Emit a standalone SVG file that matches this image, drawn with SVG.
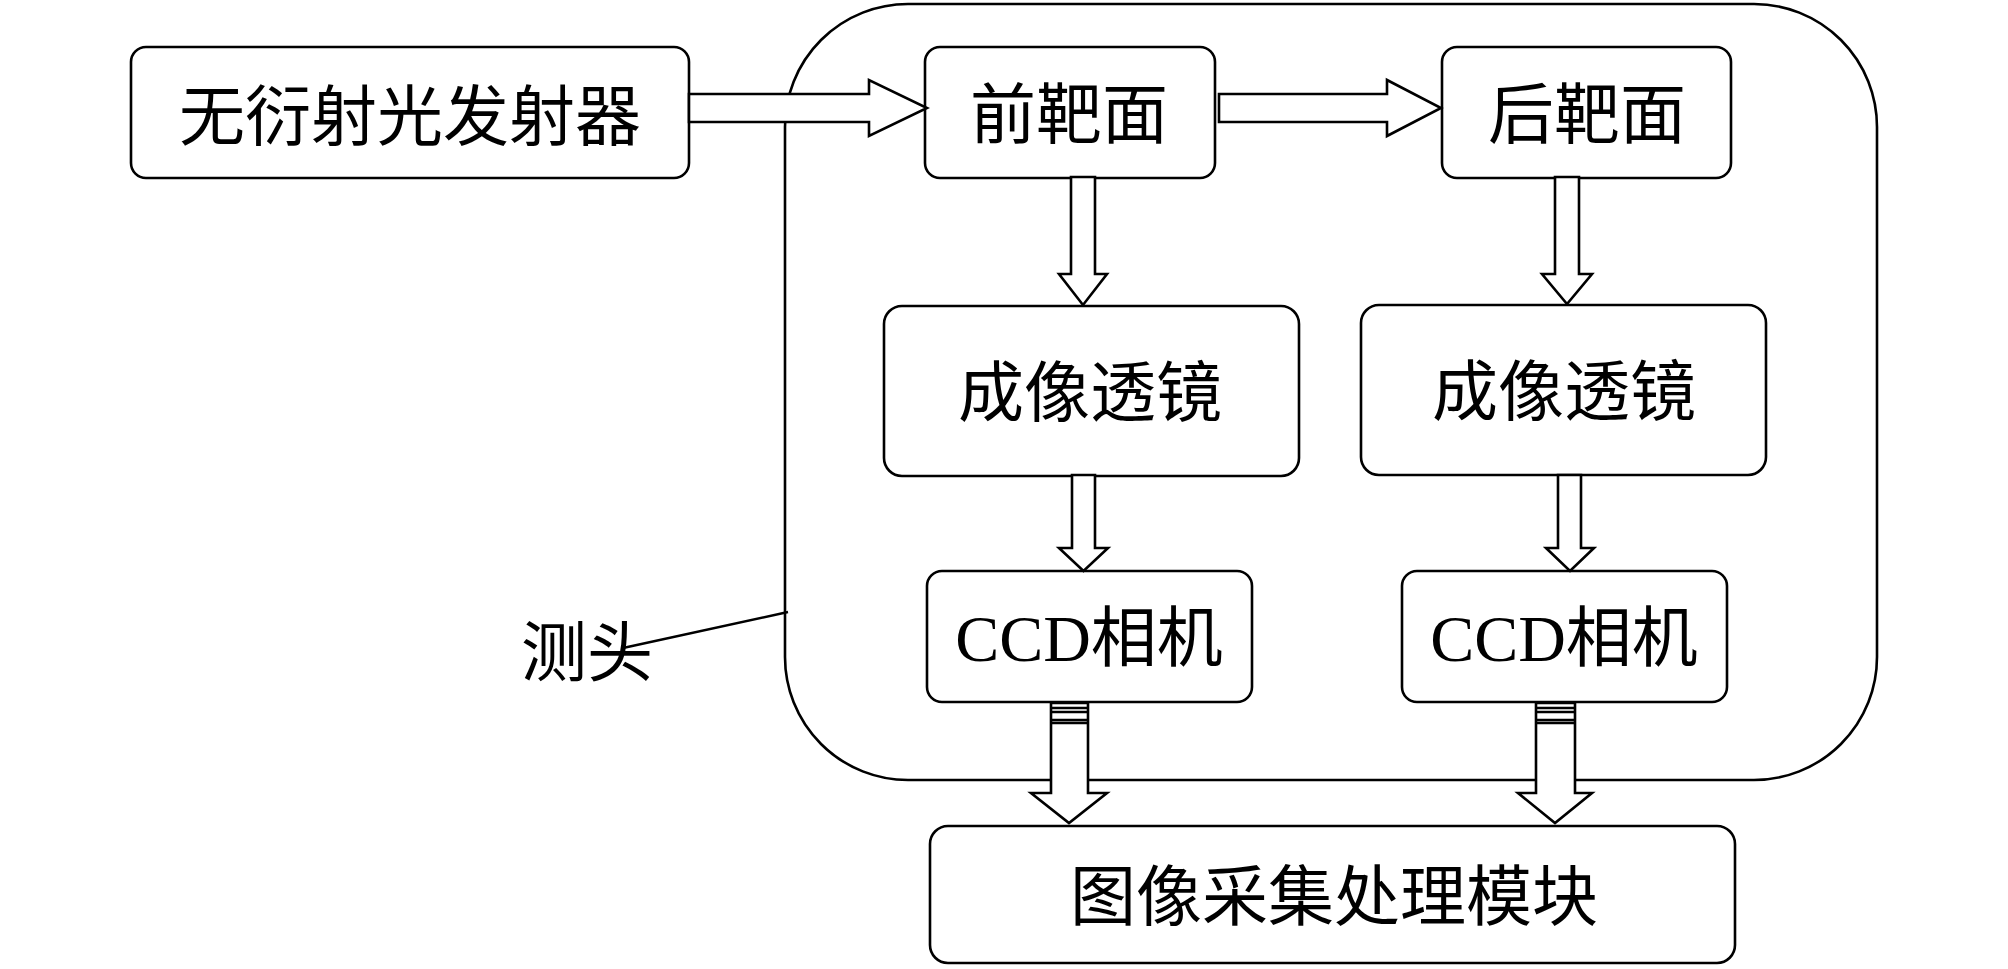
<svg xmlns="http://www.w3.org/2000/svg" width="2008" height="969" viewBox="0 0 2008 969">
  <style>
    .box { fill: #ffffff; stroke: #000000; stroke-width: 2.6; }
    .frame { fill: none; stroke: #000000; stroke-width: 2.6; }
    .arrow { fill: #ffffff; stroke: #000000; stroke-width: 2.6; stroke-linejoin: miter; }
    .stripe { stroke: #000000; stroke-width: 2.6; fill: none; }
    .lbl { font-family: "Liberation Serif", "Noto Sans CJK SC", serif; font-size: 66px; fill: #000000; text-anchor: middle; }
    .lead { stroke: #000000; stroke-width: 2.4; fill: none; }
  </style>
  <rect width="2008" height="969" fill="#ffffff"/>

  <g id="probe-head">
    <rect class="frame" x="785" y="4" width="1092" height="776" rx="123" ry="123"/>
  </g>

  <g id="emitter">
    <rect class="box" x="131" y="47" width="558" height="131" rx="15" ry="15"/>
    <text class="lbl" x="410" y="140">无衍射光发射器</text>
  </g>
  <g id="front-target">
    <rect class="box" x="925" y="47" width="290" height="131" rx="15" ry="15"/>
    <text class="lbl" x="1069" y="138">前靶面</text>
  </g>
  <g id="rear-target">
    <rect class="box" x="1442" y="47" width="289" height="131" rx="15" ry="15"/>
    <text class="lbl" x="1587" y="138">后靶面</text>
  </g>
  <g id="lens-left">
    <rect class="box" x="884" y="306" width="415" height="170" rx="18" ry="18"/>
    <text class="lbl" x="1090" y="416">成像透镜</text>
  </g>
  <g id="lens-right">
    <rect class="box" x="1361" y="305" width="405" height="170" rx="18" ry="18"/>
    <text class="lbl" x="1564" y="415">成像透镜</text>
  </g>
  <g id="ccd-left">
    <rect class="box" x="927" y="571" width="325" height="131" rx="15" ry="15"/>
    <text class="lbl" x="1089" y="661">CCD相机</text>
  </g>
  <g id="ccd-right">
    <rect class="box" x="1402" y="571" width="325" height="131" rx="15" ry="15"/>
    <text class="lbl" x="1564" y="661">CCD相机</text>
  </g>
  <g id="acquisition">
    <rect class="box" x="930" y="826" width="805" height="137" rx="18" ry="18"/>
    <text class="lbl" x="1334" y="920">图像采集处理模块</text>
  </g>

  <g id="connectors">
    <path class="arrow" d="M689,94 L869,94 L869,80 L927,108 L869,136 L869,122 L689,122 Z"/>
    <path class="arrow" d="M1219,94 L1387,94 L1387,80 L1441,108 L1387,136 L1387,122 L1219,122 Z"/>
    <path class="arrow" d="M1071,177 L1095,177 L1095,274 L1107,274 L1083,305 L1059,274 L1071,274 Z"/>
    <path class="arrow" d="M1555,177 L1579,177 L1579,274 L1592,274 L1567,304 L1542,274 L1555,274 Z"/>
    <path class="arrow" d="M1072,475 L1095,475 L1095,548 L1108,548 L1083.5,571 L1059,548 L1072,548 Z"/>
    <path class="arrow" d="M1558,475 L1581,475 L1581,548 L1594,548 L1570,571 L1546,548 L1558,548 Z"/>
    <path class="arrow" d="M1051,703 L1088,703 L1088,793 L1107,793 L1069,823 L1031,793 L1051,793 Z"/>
    <path class="stripe" d="M1051,708 H1088 M1051,712 H1088 M1051,720 H1088 M1051,723 H1088"/>
    <path class="arrow" d="M1536,703 L1575,703 L1575,793 L1592,793 L1555,823 L1518,793 L1536,793 Z"/>
    <path class="stripe" d="M1536,708 H1575 M1536,712 H1575 M1536,720 H1575 M1536,723 H1575"/>
  </g>

  <g id="probe-label">
    <text class="lbl" x="587" y="676">测头</text>
    <line class="lead" x1="623" y1="648" x2="788" y2="612"/>
  </g>
</svg>
